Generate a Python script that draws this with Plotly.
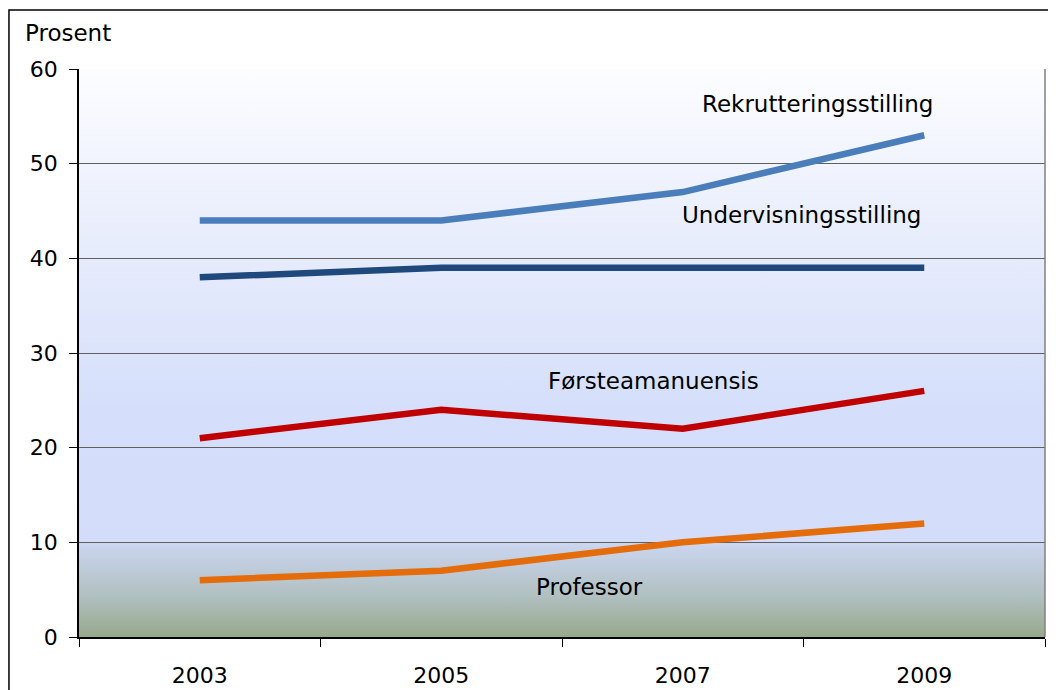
import base64
import plotly.graph_objects as go

years = [2003, 2005, 2007, 2009]
rekruttering = [44, 44, 47, 53]
undervisning = [38, 39, 39, 39]
forsteam = [21, 24, 22, 26]
professor = [6, 7, 10, 12]

series = [
    ("Rekrutteringsstilling", rekruttering, "#4a7ebb"),
    ("Undervisningsstilling", undervisning, "#1f497d"),
    ("Førsteamanuensis", forsteam, "#c00000"),
    ("Professor", professor, "#e46c0a"),
]

# label positions (x in years, y in percent)
labels = [
    ("Rekrutteringsstilling", 2008.12, 56.3),
    ("Undervisningsstilling", 2007.98, 44.6),
    ("Førsteamanuensis", 2006.76, 27.0),
    ("Professor", 2006.23, 5.3),
]

# background gradient, top of plot to bottom
svg = """<svg xmlns="http://www.w3.org/2000/svg" width="100" height="600" preserveAspectRatio="none">
<defs><linearGradient id="g" x1="0" y1="0" x2="0" y2="1">
<stop offset="0" stop-color="#fcfdff"/>
<stop offset="0.3" stop-color="#e8edfc"/>
<stop offset="0.6" stop-color="#d5dffb"/>
<stop offset="0.833" stop-color="#d3ddfa"/>
<stop offset="0.835" stop-color="#cbd6f0"/>
<stop offset="0.93" stop-color="#b0bfbf"/>
<stop offset="1" stop-color="#97a88c"/>
</linearGradient></defs>
<rect width="100" height="600" fill="url(#g)"/></svg>"""
bg = "data:image/svg+xml;base64," + base64.b64encode(svg.encode()).decode()

fig = go.Figure()
for name, vals, col in series:
    fig.add_trace(go.Scatter(x=years, y=vals, mode="lines", name=name,
                             line=dict(color=col, width=6.5)))

for txt, lx, ly in labels:
    fig.add_annotation(x=lx, y=ly, text=txt, showarrow=False,
                       font=dict(size=23, color="black"))

fig.add_annotation(x=-0.058, y=1.063, xref="paper", yref="paper", text="Prosent",
                   showarrow=False, xanchor="left", yanchor="middle",
                   font=dict(size=23, color="black"))

fig.add_layout_image(dict(source=bg, xref="x", yref="y", x=2002, y=60, sizex=8, sizey=60,
                          sizing="stretch", layer="below"))

# right border of plot area and outer frame
fig.add_shape(type="line", xref="paper", yref="paper", x0=1, x1=1, y0=0, y1=1,
              line=dict(color="#808080", width=1.5))
fig.add_shape(type="rect", xref="paper", yref="paper", x0=-0.0725, x1=1.1, y0=-0.2, y1=1.104,
              line=dict(color="black", width=1.5))

# page body has an 8px margin, so the figure is sized to fit inside it
fig.update_layout(
    width=1048, height=682,
    margin=dict(l=71, r=11, t=61, b=53),
    paper_bgcolor="white", plot_bgcolor="white",
    showlegend=False,
    font=dict(family="DejaVu Sans", size=22, color="black"),
)
fig.update_xaxes(range=[2002, 2010], tickvals=years, ticks="", showgrid=False,
                 showline=True, linecolor="black", linewidth=1.5, zeroline=False,
                 ticklabelstandoff=18, automargin=False,
                 minor=dict(tickvals=[2002, 2004, 2006, 2008, 2010], ticks="outside",
                            ticklen=8, tickcolor="black", tickwidth=1, showgrid=False))
fig.update_yaxes(range=[0, 60], dtick=10, showgrid=True, gridcolor="#606060", gridwidth=1,
                 showline=True, linecolor="black", linewidth=1.5, zeroline=False,
                 automargin=False,
                 ticks="outside", ticklen=8, tickcolor="black", ticklabelstandoff=7)

fig.write_html("out.html")
